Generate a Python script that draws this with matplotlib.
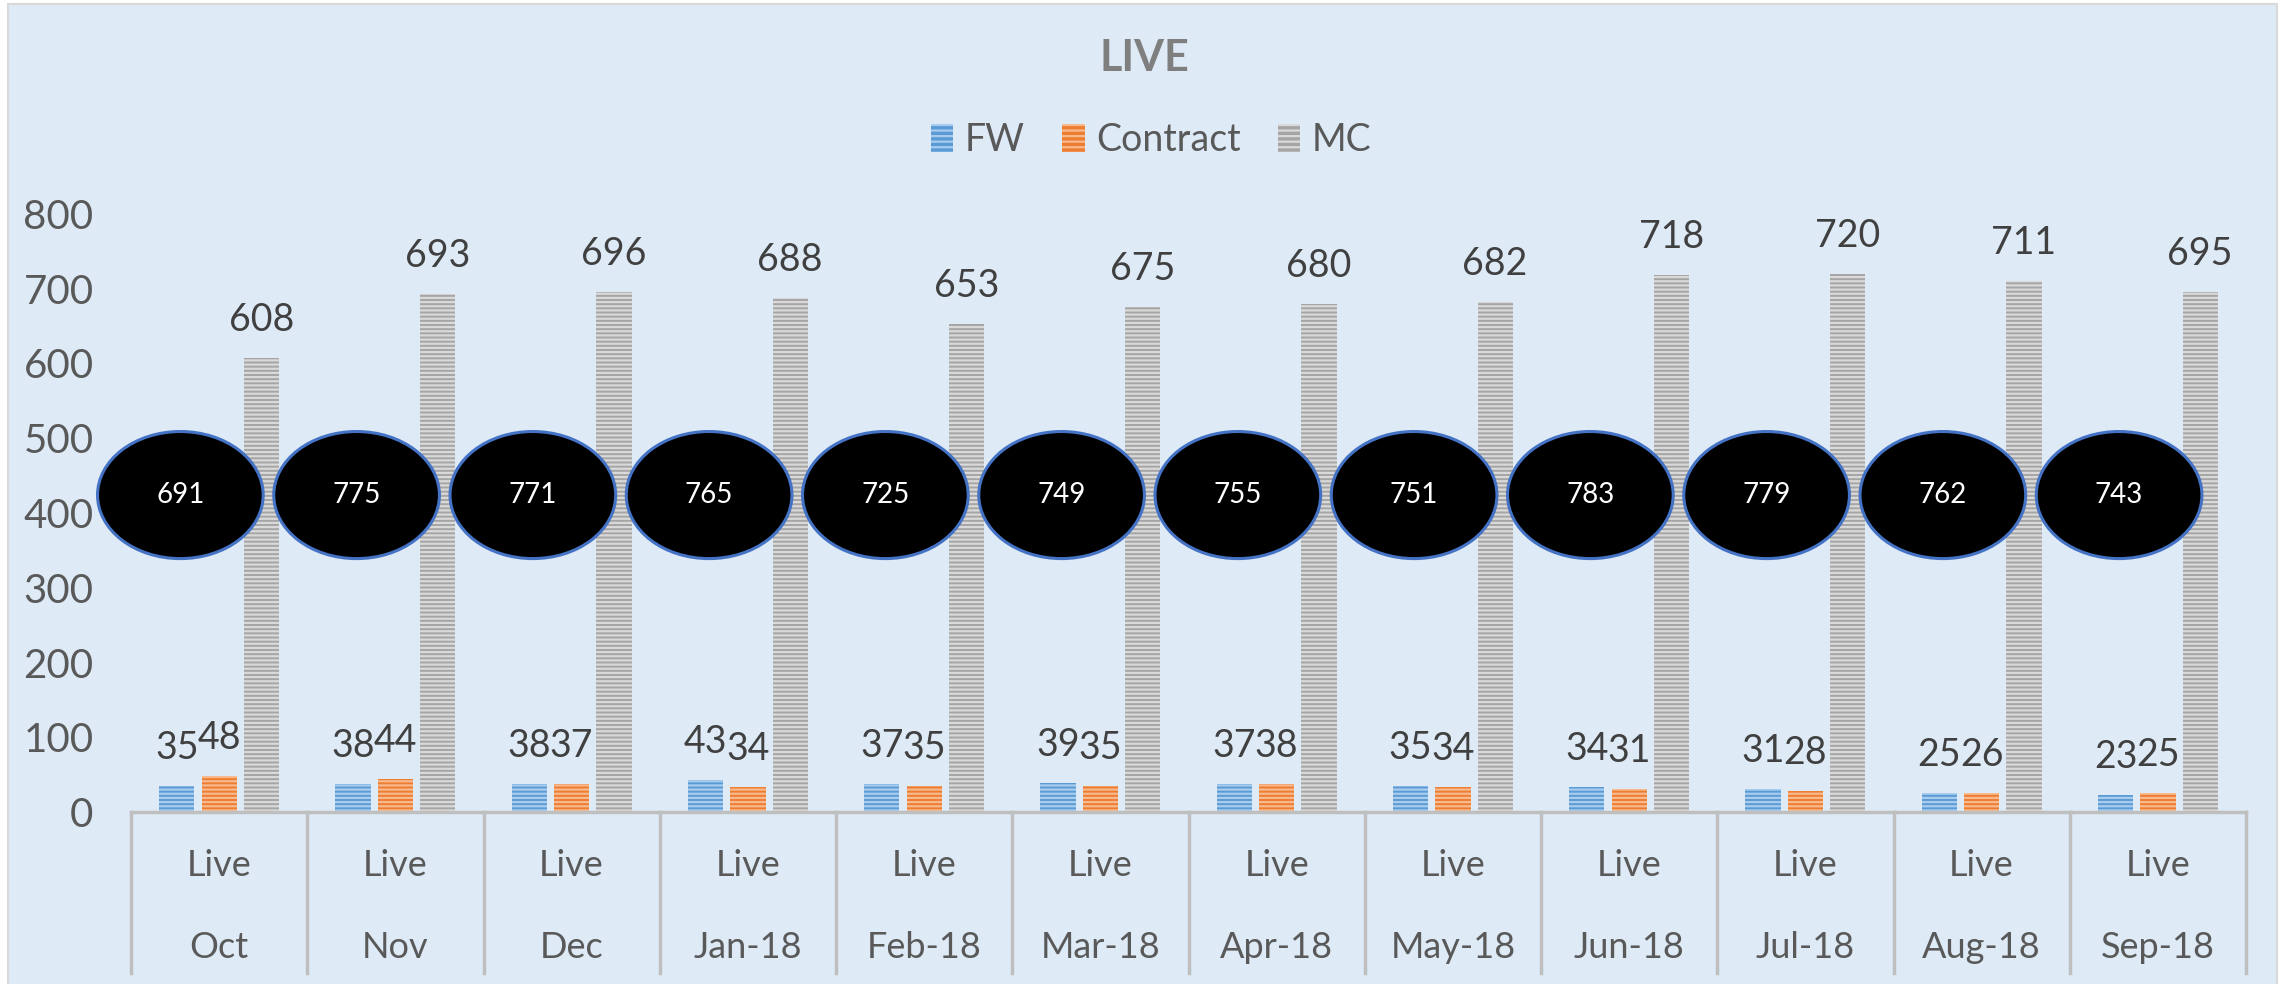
import numpy as np
import matplotlib.pyplot as plt
from matplotlib.patches import Ellipse, Rectangle, Patch

plt.rcParams['font.family'] = ['Lato', 'DejaVu Sans']
plt.rcParams['hatch.linewidth'] = 1.6

months = ['Oct', 'Nov', 'Dec', 'Jan-18', 'Feb-18', 'Mar-18', 'Apr-18',
          'May-18', 'Jun-18', 'Jul-18', 'Aug-18', 'Sep-18']
row_label = 'Live'
fw = [35, 38, 38, 43, 37, 39, 37, 35, 34, 31, 25, 23]
contract = [48, 44, 37, 34, 35, 35, 38, 34, 31, 28, 26, 25]
mc = [608, 693, 696, 688, 653, 675, 680, 682, 718, 720, 711, 695]
totals = [691, 775, 771, 765, 725, 749, 755, 751, 783, 779, 762, 743]
yticks = [0, 100, 200, 300, 400, 500, 600, 700, 800]

W, H = 2285, 984
fig = plt.figure(figsize=(W / 100, H / 100), dpi=100)
fig.patch.set_facecolor('white')
# chart area background with thin frame
fig.patches.append(Rectangle((8 / W, -0.02), (2277 - 8) / W, 1.02 - 4 / H,
                             transform=fig.transFigure, facecolor='#DEEBF7',
                             edgecolor='#D9D9D9', lw=1.5, zorder=-10))

ax = fig.add_axes([131 / W, 1 - 812 / H, (2246 - 131) / W, (812 - 214) / H])
ax.patch.set_alpha(0)

x = np.arange(len(months))
bw = 0.2
off = 0.24
series = [
    ('FW', fw, '#5B9BD5', '#A8CCEE', -off),
    ('Contract', contract, '#ED7D31', '#F8B98E', 0),
    ('MC', mc, '#A5A5A5', '#D9D9D9', off),
]
handles = []
for name, vals, col, light, dx in series:
    ax.bar(x + dx, vals, bw, color=col, edgecolor=light, hatch='----',
           linewidth=0, zorder=2)
    for xi, v in zip(x + dx, vals):
        ax.annotate(str(v), (xi, v), xytext=(0, 38), textcoords='offset pixels',
                    ha='center', va='center', fontsize=27, color='#404040',
                    zorder=6)
    handles.append(Patch(facecolor=col, edgecolor=light, hatch='---',
                         linewidth=0, label=name))

# total bubbles
for xi, t in zip(x, totals):
    ax.add_patch(Ellipse((xi - 0.22, 424), 0.94, 170, facecolor='black',
                         edgecolor='#4472C4', lw=2.2, zorder=4, clip_on=False))
    ax.text(xi - 0.22, 424, str(t), ha='center', va='center', fontsize=20,
            color='white', zorder=5)

ax.set_xlim(-0.5, len(months) - 0.5)
ax.set_ylim(0, 800)
for s in ax.spines.values():
    s.set_visible(False)
ax.set_xticks([])
ax.set_yticks(yticks)
ax.tick_params(axis='y', length=0, pad=27, labelsize=29, labelcolor='#595959')

# category axis with two label rows
tr = ax.get_xaxis_transform()
ax.plot([-0.5, len(months) - 0.5], [0, 0], color='#BFBFBF', lw=2.5,
        transform=tr, clip_on=False, zorder=3)
for b in np.arange(-0.5, len(months), 1.0):
    ax.plot([b, b], [0, -0.269], color='#BFBFBF', lw=2.5, transform=tr,
            clip_on=False, zorder=3)
for xi, m in zip(x, months):
    ax.text(xi, -0.090, row_label, transform=tr, ha='center', va='center',
            fontsize=26, color='#595959')
    ax.text(xi, -0.226, m, transform=tr, ha='center', va='center',
            fontsize=26, color='#595959')

fig.text(1144 / W, 1 - 58 / H, 'LIVE', ha='center', va='center', fontsize=31,
         fontweight='bold', color='#7F7F7F')
fig.legend(handles=handles, loc='center', bbox_to_anchor=(1151 / W, 1 - 140 / H),
           ncol=3, frameon=False, fontsize=27, handlelength=0.6,
           handleheight=0.8, handletextpad=0.3, columnspacing=1.0,
           labelcolor='#595959')

fig.savefig('out.png', dpi=100)
